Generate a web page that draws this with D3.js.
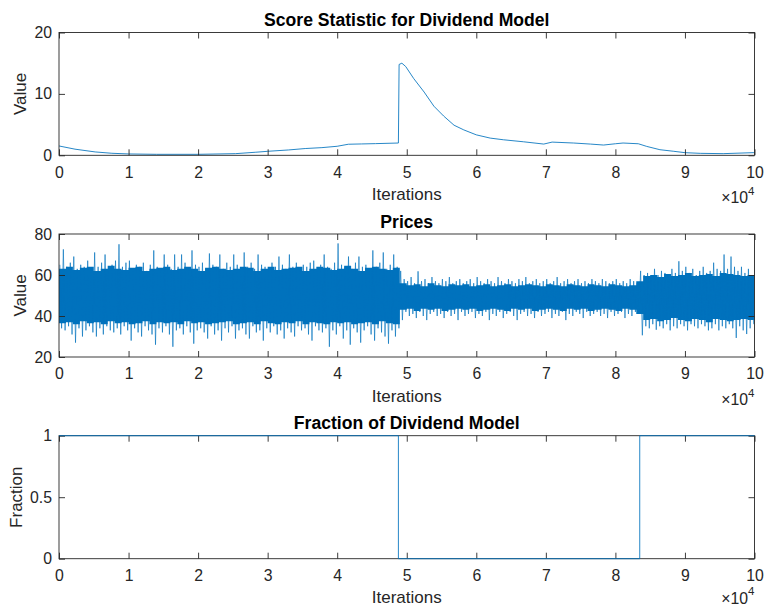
<!DOCTYPE html>
<html><head><meta charset="utf-8">
<script src="https://cdn.jsdelivr.net/npm/d3@7"></script>
<style>
html,body{margin:0;padding:0;background:#fff;}
svg{display:block;font-family:"Liberation Sans",Arial,Helvetica,sans-serif;}
</style></head><body>
<svg id="chart" width="764" height="608"></svg>
<script>
// ---------------- data ----------------
const xTickValues = [0,10000,20000,30000,40000,50000,60000,70000,80000,90000,100000];
const scoreTicks = [0,10,20];
const priceTicks = [20,40,60,80];
const fracTicks = [0,0.5,1];

const scoreX = [0,2300,5200,7600,10000,14000,20000,25400,28300,30000,33000,35400,37800,40000,41600,43500,45500,48800,48900,49300,49850,51000,52500,53900,55300,56800,58200,60000,62000,63900,66800,69700,70900,74000,76400,78300,80000,81100,83300,84500,86400,88400,90000,92200,95500,99800,100000];
const scoreY = [1.52,1.0,0.55,0.33,0.22,0.16,0.16,0.27,0.5,0.65,0.87,1.1,1.25,1.47,1.8,1.85,1.9,2.0,14.8,15.0,14.46,12.5,10.3,8.0,6.4,4.9,4.14,3.33,2.8,2.53,2.2,1.83,2.15,2.0,1.83,1.67,1.88,2.0,1.88,1.45,0.91,0.65,0.43,0.32,0.27,0.43,0.43];

// prices: highest / lowest spike per 500-iteration bin
const priceBinSize = 500;
const priceHi = [
 65,72.5,64,66,69,63,65,64,67,63, 71,64,66,70,63,65,67,75,64,66,
 67,63,65,64,66,62,65,72,64,63, 70,65,63,70,64,70,66,63,72,65,
 64,66,63,70.5,65,64,70,63,66,64, 70,65,63,71,64,66,63,70,65,64,
 63,66,64,69,65,63,70,64,66,63, 65,64,66,67,63,65,70,64,63,66,
 75.4,65,64,69,63,66,69,64,65,63, 72,64,66,71,63,65,70,64,
 62,58,57,59,56,61.8,57,58,56,59, 57,56,58,57,59,56,57,58,56,57,
 58,56,59,57,56,58,57,56,59,57, 56,58,57,56,58,57,59,56,57,58,
 56,57,58,56,57,59,56,57,58,56, 57,58,56,57,56,58,57,56,58,57,
 56,57,58,56,57,56,58,57,56,
 62,60,61,59,63,60,62,61,60,63, 61,66.7,62,64,61,63,60,62,64,61,
 62,66,63,62,70,63,69,64,62,64, 61,63,60];
const priceLo = [
 34,33,35,31,27,34,30,33,35,32, 30,34,31,35,33,32,34,31,35,33,
 28,34,32,30,35,33,31,26,34,32, 35,31,25,33,34,31,35,32,26.5,33,
 34,32,29,35,31,33,28,34,32,35, 29,33,34,31,29,35,32,33,28,34,
 32,35,31,33,29,34,32,30,35,33, 34,31,28,35,33,32,34,25,33,31,
 35,29,33,26,34,32,27,33,35,31, 28,34,32,30,26.5,33,30,34,
 38,42,40,41,39,42,40,38,41,42, 40,41,39,42,40,41,38,42,40,41,
 42,39,41,40,42,38,41,40,42,39, 41,42,40,38,41,42,40,41,39,42,
 40,41,42,39,41,40,42,38,41,40, 42,41,39,42,40,41,42,40,41,39,
 42,40,41,42,39,41,40,42,41,
 30.6,35,34,36,33.3,35,34,36,33,35, 34,36,35,33,36,35,34,36,35,33,
 34,36,33,35,34,36,34,29.3,35,33, 31.2,34,36];
// dense band (where the trace is solid) per 500-iteration bin pair
const coreBinSize = 1000;
const priceCoreHi = [
 63,64,62.5,63.5,64,62,63,64.5,63,62.5, 63.5,64,62,63,63.5,64,62.5,63,64,63,
 62,63.5,64,63,62.5,63,64,63.5,62,63, 64,62.5,63,63.5,64,62,63,64,63.5,62.5,
 63,64.5,63,62,63.5,64,63,62.5,63.5,
 56,55,55.5,54.5,56,55,54.5,55.5,55,55.5, 54.5,55,55.5,54.5,55,55.5,54.5,55,55.5,55,
 54.5,55.5,55,54.5,55.5,55,54.5,55.5,55,54.5, 55.5,55,54.5,55,57,
 59.5,60,59,60.5,59.5,60,61,59.5,60,60.5, 59.5,61,60.5,60,59.5,60];
const priceCoreLo = [
 36.5,37,36,37.5,36.5,37,36,37.5,36.5,37, 36,36.5,37.5,36,37,36.5,37,36,37.5,36.5,
 37,36,36.5,37,37.5,36,36.5,37,36,37.5, 36.5,36,37,36.5,37.5,36,37,36.5,36,37,
 36.5,37,36,36.5,37,36,37.5,36.5,36,
 43,43.5,42.5,43.5,43,43.5,42.5,43,43.5,43, 43.5,42.5,43,43.5,43,42.5,43.5,43,43.5,42.5,
 43,43.5,43,42.5,43.5,43,43.5,42.5,43,43.5, 43,42.5,43.5,43,41,
 38,38.5,37.5,38,39,38,37.5,38.5,38,37, 38.5,38,37.5,38,38.5,38];

const fracX = [0,48800,48800,83500,83500,100000];
const fracY = [1,1,0,0,1,1];

// ---------------- layout ----------------
const svg = d3.select("#chart");
const L = 59, R = 754.5;
const BLUE = "#0072BD", AX = "#262626";
const FONT = '"Liberation Sans",Arial,Helvetica,sans-serif';
const x = d3.scaleLinear().domain([0,100000]).range([L,R]);

const panels = [
  {top:32.5, bottom:155.3, domain:[0,20], ticks:scoreTicks, title:"Score Statistic for Dividend Model", ylabel:"Value", ylx:25.5, exOff:48},
  {top:234, bottom:357, domain:[20,80], ticks:priceTicks, title:"Prices", ylabel:"Value", ylx:25.5, exOff:48},
  {top:435.7, bottom:558.7, domain:[0,1], ticks:fracTicks, title:"Fraction of Dividend Model", ylabel:"Fraction", ylx:21.7, exOff:45}
];

panels.forEach((p,i)=>{
  p.y = d3.scaleLinear().domain(p.domain).range([p.bottom,p.top]);
  p.g = svg.append("g");
  const clipId = "clip"+i;
  svg.append("clipPath").attr("id",clipId).append("rect")
    .attr("x",L).attr("y",p.top).attr("width",R-L).attr("height",p.bottom-p.top);
  p.data = p.g.append("g").attr("clip-path",`url(#${clipId})`);
});

// ------------- data marks -------------
{
  const p = panels[0];
  const line = d3.line().x((d,i)=>x(scoreX[i])).y(d=>p.y(d));
  p.data.append("path").datum(scoreY).attr("d",line)
    .attr("fill","none").attr("stroke",BLUE).attr("stroke-width",1).attr("stroke-opacity",0.85);
}
{
  const p = panels[1];
  const coreIdx = d3.range(priceCoreHi.length + 1);
  const area = d3.area().curve(d3.curveStepAfter)
    .x(i=>x(i*coreBinSize))
    .y0(i=>p.y(priceCoreLo[Math.min(i,priceCoreLo.length-1)]))
    .y1(i=>p.y(priceCoreHi[Math.min(i,priceCoreHi.length-1)]));
  p.data.append("path").datum(coreIdx).attr("d",area).attr("fill",BLUE);
  const pts = priceHi.flatMap((h,i)=>[[(i+0.25)*priceBinSize,h],[(i+0.75)*priceBinSize,priceLo[i]]]);
  const line = d3.line().x(d=>x(d[0])).y(d=>p.y(d[1]));
  p.data.append("path").datum(pts).attr("d",line)
    .attr("fill","none").attr("stroke",BLUE).attr("stroke-width",1).attr("stroke-opacity",0.65);
}

// ------------- axes -------------
const fmtX = d=>d3.format("d")(d/10000);
panels.forEach((p,i)=>{
  const g = p.g, y = p.y;
  g.append("rect").attr("x",L).attr("y",p.top).attr("width",R-L).attr("height",p.bottom-p.top)
    .attr("fill","none").attr("stroke",AX).attr("stroke-width",0.9);
  const style = sel=>{
    sel.select(".domain").remove();
    sel.selectAll(".tick line").attr("stroke",AX).attr("stroke-width",0.9);
    sel.selectAll("text").attr("fill",AX).style("font-size","15.8px").style("font-family",FONT);
  };
  g.append("g").attr("transform",`translate(0,${p.bottom})`)
    .call(d3.axisBottom(x).tickValues(xTickValues).tickFormat(fmtX).tickSizeInner(-6).tickSizeOuter(0).tickPadding(11))
    .call(style);
  g.append("g").attr("transform",`translate(0,${p.top})`)
    .call(d3.axisTop(x).tickValues(xTickValues).tickFormat("").tickSizeInner(-6).tickSizeOuter(0))
    .call(style);
  g.append("g").attr("transform",`translate(${L},0)`)
    .call(d3.axisLeft(y).tickValues(p.ticks).tickFormat(d3.format("~g")).tickSizeInner(-6).tickSizeOuter(0).tickPadding(7))
    .call(style);
  g.append("g").attr("transform",`translate(${R},0)`)
    .call(d3.axisRight(y).tickValues(p.ticks).tickFormat("").tickSizeInner(-6).tickSizeOuter(0))
    .call(style);
  g.append("text").attr("x",(L+R)/2).attr("y",p.top-6.5).attr("text-anchor","middle")
    .style("font-size","17.6px").style("font-weight","bold").attr("fill","#000").text(p.title);
  g.append("text").attr("x",(L+R)/2).attr("y",p.bottom+44.5).attr("text-anchor","middle")
    .style("font-size","17px").attr("fill",AX).text("Iterations");
  const ex = g.append("text").attr("x",R).attr("y",p.bottom+p.exOff).attr("text-anchor","end")
    .style("font-size","15.8px").attr("fill",AX);
  ex.append("tspan").text("×10");
  ex.append("tspan").attr("dy",-8.5).style("font-size","11.5px").text("4");
  g.append("text").attr("transform",`translate(${p.ylx},${(p.top+p.bottom)/2}) rotate(-90)`)
    .attr("text-anchor","middle").style("font-size","17px").attr("fill",AX).text(p.ylabel);
});

{
  const p = panels[2];
  const line = d3.line().x((d,i)=>x(fracX[i])).y(d=>p.y(d));
  p.g.append("path").datum(fracY).attr("d",line)
    .attr("fill","none").attr("stroke",BLUE).attr("stroke-width",1).attr("stroke-opacity",0.85);
}
</script>
</body></html>
